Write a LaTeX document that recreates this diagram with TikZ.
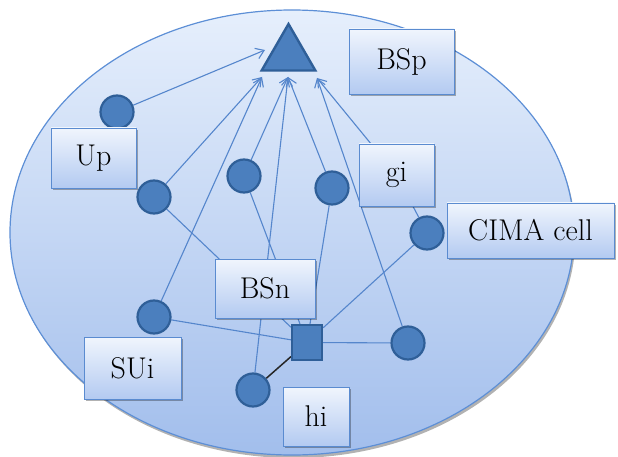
\documentclass[tikz,border=0pt]{standalone}
\usetikzlibrary{shapes.geometric,arrows.meta,shadows,calc}
\pgfdeclarelayer{bg}
\pgfdeclarelayer{lines}
\pgfsetlayers{bg,lines,main}
\definecolor{linec}{HTML}{5586CC}
\definecolor{elltop}{HTML}{E6EFFC}
\definecolor{ellbot}{HTML}{A2BEEC}
\definecolor{elld}{HTML}{5D8FD6}
\definecolor{boxt}{HTML}{F0F5FD}
\definecolor{boxb}{HTML}{B3CAF1}
\definecolor{boxd}{HTML}{5A8BD0}
\definecolor{dotf}{HTML}{4B7FBE}
\definecolor{dotd}{HTML}{2F5F98}
\begin{document}
\begin{tikzpicture}[x=1pt,y=-1pt,
  lbl/.style={draw=boxd, line width=0.9pt, top color=boxt, bottom color=boxb,
    inner sep=0pt, font=\fontsize{30}{36}\selectfont,
    drop shadow={shadow xshift=2pt, shadow yshift=-2pt, opacity=0.3, fill=black}},
  dot/.style={circle, fill=dotf, draw=dotd, line width=2.2pt, minimum size=33pt, inner sep=0pt},
  sqbox/.style={rectangle, fill=dotf, draw=dotd, line width=2.2pt, minimum width=30pt, minimum height=35pt, inner sep=0pt},
  tribox/.style={regular polygon, regular polygon sides=3, fill=dotf, draw=dotd, line width=2.4pt, minimum size=62pt, inner sep=0pt},
  link/.style={draw=linec, line width=1.1pt},
  arr/.style={link, -{Straight Barb[length=8pt,width=11pt]}},
  dark/.style={draw=black!85, line width=1.5pt}]
\useasboundingbox (0,0) rectangle (618,457);

% triangle
\node[tribox] (tri) at (288.5,55) {};
\coordinate (tL) at (262,77);
\coordinate (tC) at (288,77);
\coordinate (tR) at (317,78);
\coordinate (tS) at (265,50);

% circles
\node[dot] (cUp) at (117,112) {};
\node[dot] (c2) at (154,197) {};
\node[dot] (cA) at (244,176) {};
\node[dot] (cB) at (332,188) {};
\node[dot] (cC) at (427,233) {};
\node[dot] (cS) at (154,317) {};
\node[dot] (cR) at (408,343) {};
\node[dot] (cH) at (253,390) {};
\node[sqbox] (sq) at (307,342.5) {};

% labels
\node[lbl, minimum width=85pt, minimum height=60pt] (up) at (93.5,158) {Up};
\node[lbl, minimum width=105pt, minimum height=65pt] (bsp) at (401.5,61.5) {BSp};
\node[lbl, minimum width=75pt, minimum height=62pt] (gi) at (396.5,175) {gi};
\node[lbl, minimum width=167pt, minimum height=55pt] (cima) at (530.5,230.5) {CIMA cell};
\node[lbl, minimum width=100pt, minimum height=59pt] (bsn) at (265,288.5) {BSn};
\node[lbl, minimum width=97pt, minimum height=62pt] (sui) at (132.5,368) {SUi};
\node[lbl, minimum width=66pt, minimum height=59pt] (hi) at (316,416.5) {hi};

\begin{pgfonlayer}{bg}
  \path[draw=elld, line width=1.2pt, top color=elltop, bottom color=ellbot,
    drop shadow={shadow xshift=1.5pt, shadow yshift=-3pt, opacity=0.3, fill=black}]
    (292,232.5) ellipse [x radius=282, y radius=222.5];
\end{pgfonlayer}

\begin{pgfonlayer}{lines}
  \draw[arr] (cUp) -- (tS);
  \draw[arr] (c2) -- (tL);
  \draw[arr] (cS) -- (tL);
  \draw[arr] (cA) -- (tC);
  \draw[arr] (cH) -- (tC);
  \draw[arr] (cB) -- (tC);
  \draw[arr] (cR) -- (tR);
  \draw[arr] (gi) -- (tR);
  \draw[link] (gi) -- (cC);
  \draw[link] (c2) -- (sq);
  \draw[link] (cA) -- (sq);
  \draw[link] (cB) -- (sq);
  \draw[link] (cS) -- (sq);
  \draw[link] (sq) -- (cR);
  \draw[link] (sq) -- (cC);
  \draw[dark] (sq) -- (cH);
\end{pgfonlayer}
\end{tikzpicture}
\end{document}
